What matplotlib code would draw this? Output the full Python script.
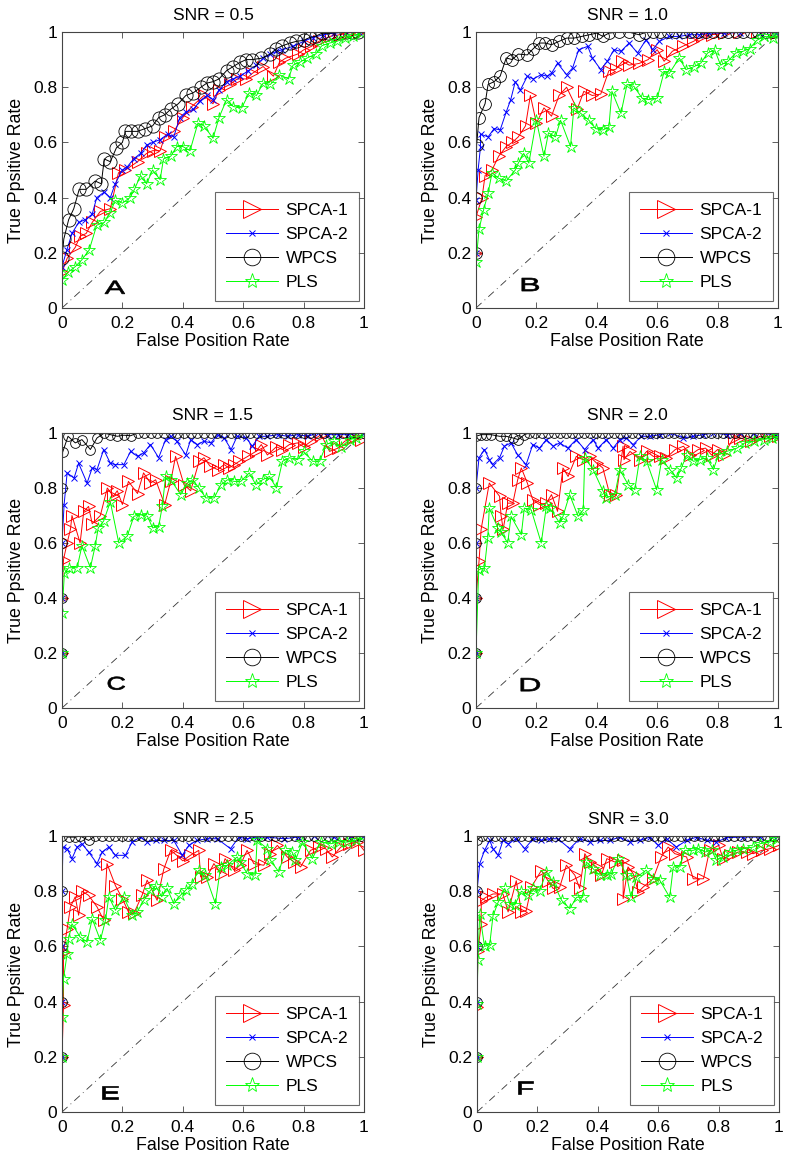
import matplotlib
matplotlib.use("Agg")
import matplotlib.pyplot as plt
from matplotlib.lines import Line2D
from matplotlib.ticker import FormatStrFormatter
from matplotlib.textpath import TextPath
from matplotlib.patches import PathPatch
from matplotlib.font_manager import FontProperties
from matplotlib.transforms import Affine2D, ScaledTranslation

plt.rcParams['font.family'] = ['Liberation Sans', 'DejaVu Sans']

titles = ["SNR = 0.5", "SNR = 1.0", "SNR = 1.5", "SNR = 2.0", "SNR = 2.5", "SNR = 3.0"]
letters = ["A", "B", "C", "D", "E", "F"]
series_names = ["SPCA-1", "SPCA-2", "WPCS", "PLS"]

# ---------------- Panel A ----------------
A_spca1 = [(0,0.13),(0.017,0.18),(0.044,0.22),(0.06,0.26),(0.08,0.27),(0.1,0.31),(0.127,0.35),(0.16,0.36),(0.187,0.49),(0.21,0.50),(0.25,0.53),(0.28,0.56),(0.30,0.57),(0.325,0.57),(0.34,0.62),(0.37,0.64),(0.40,0.69),(0.43,0.73),(0.47,0.77),(0.50,0.74),(0.52,0.79),(0.556,0.81),(0.58,0.83),(0.61,0.83),(0.63,0.85),(0.666,0.875),(0.70,0.84),(0.72,0.89),(0.74,0.905),(0.78,0.92),(0.80,0.935),(0.826,0.948),(0.85,0.966),(0.89,0.985),(0.92,0.99),(0.95,0.997),(0.985,1.0)]
A_spca2 = [(0,0.15),(0.016,0.21),(0.033,0.27),(0.055,0.31),(0.077,0.32),(0.1,0.34),(0.115,0.40),(0.14,0.42),(0.16,0.40),(0.176,0.45),(0.2,0.50),(0.215,0.51),(0.237,0.54),(0.26,0.56),(0.28,0.59),(0.3,0.60),(0.325,0.61),(0.35,0.63),(0.37,0.62),(0.39,0.69),(0.41,0.71),(0.435,0.72),(0.457,0.75),(0.48,0.77),(0.5,0.755),(0.52,0.79),(0.545,0.82),(0.567,0.83),(0.59,0.84),(0.617,0.86),(0.644,0.88),(0.666,0.905),(0.69,0.92),(0.71,0.93),(0.73,0.936),(0.765,0.948),(0.8,0.966),(0.83,0.98),(0.865,0.99),(0.9,0.996),(0.94,1.0),(0.985,1.0)]
A_wpcs = [(0,0.18),(0.006,0.25),(0.022,0.32),(0.039,0.36),(0.057,0.43),(0.08,0.43),(0.11,0.46),(0.13,0.45),(0.14,0.54),(0.16,0.53),(0.18,0.58),(0.2,0.60),(0.21,0.64),(0.23,0.64),(0.25,0.64),(0.275,0.65),(0.3,0.66),(0.32,0.69),(0.34,0.70),(0.36,0.72),(0.385,0.74),(0.41,0.77),(0.435,0.78),(0.46,0.80),(0.48,0.815),(0.5,0.82),(0.52,0.83),(0.545,0.86),(0.567,0.875),(0.59,0.89),(0.61,0.90),(0.63,0.90),(0.66,0.905),(0.69,0.92),(0.71,0.94),(0.73,0.95),(0.755,0.96),(0.776,0.966),(0.8,0.97),(0.82,0.98),(0.84,0.985),(0.86,0.995),(0.88,0.995),(0.9,0.997),(0.92,0.998),(0.94,1.0),(0.96,1.0),(0.98,1.0)]
A_pls = [(0,0.10),(0.02,0.13),(0.044,0.15),(0.066,0.175),(0.09,0.21),(0.115,0.30),(0.14,0.31),(0.16,0.345),(0.176,0.39),(0.2,0.38),(0.225,0.40),(0.24,0.43),(0.26,0.48),(0.28,0.45),(0.3,0.50),(0.325,0.465),(0.336,0.54),(0.36,0.55),(0.38,0.585),(0.4,0.585),(0.424,0.57),(0.45,0.67),(0.47,0.66),(0.5,0.615),(0.52,0.69),(0.545,0.755),(0.567,0.73),(0.595,0.725),(0.62,0.78),(0.644,0.77),(0.666,0.815),(0.69,0.81),(0.72,0.845),(0.75,0.83),(0.765,0.88),(0.787,0.89),(0.81,0.905),(0.84,0.92),(0.86,0.95),(0.886,0.96),(0.91,0.966),(0.936,0.978),(0.964,0.984),(0.99,0.997)]

# ---------------- Panel B ----------------
B_spca1 = [(0,0.2),(0,0.33),(0.02,0.40),(0.03,0.48),(0.053,0.50),(0.075,0.55),(0.1,0.585),(0.12,0.60),(0.14,0.62),(0.164,0.66),(0.18,0.77),(0.2,0.67),(0.225,0.725),(0.25,0.695),(0.275,0.77),(0.3,0.80),(0.335,0.72),(0.357,0.785),(0.385,0.77),(0.413,0.775),(0.44,0.86),(0.463,0.865),(0.485,0.894),(0.507,0.88),(0.54,0.886),(0.57,0.90),(0.6,0.936),(0.623,0.894),(0.65,0.93),(0.684,0.948),(0.72,0.966),(0.75,0.984),(0.78,0.99),(0.82,0.996),(0.87,1.0),(0.93,1.0),(0.995,0.997)]
B_spca2 = [(0,0.2),(0,0.39),(0.007,0.50),(0.015,0.585),(0.015,0.63),(0.04,0.62),(0.06,0.65),(0.08,0.645),(0.1,0.71),(0.115,0.755),(0.13,0.82),(0.147,0.79),(0.17,0.84),(0.19,0.83),(0.215,0.845),(0.235,0.84),(0.25,0.85),(0.27,0.887),(0.3,0.845),(0.32,0.87),(0.34,0.936),(0.37,0.948),(0.385,0.906),(0.413,0.864),(0.435,0.894),(0.457,0.936),(0.48,0.93),(0.507,0.96),(0.535,0.924),(0.563,0.972),(0.585,0.936),(0.607,0.966),(0.64,0.984),(0.673,0.984),(0.706,0.99),(0.74,0.99),(0.773,0.996),(0.82,0.996),(0.875,0.998),(0.94,0.998),(0.995,0.997)]
B_wpcs = [(0,0.2),(0,0.40),(0.002,0.59),(0.01,0.69),(0.03,0.74),(0.04,0.81),(0.06,0.82),(0.08,0.84),(0.1,0.906),(0.12,0.90),(0.14,0.92),(0.17,0.917),(0.19,0.94),(0.21,0.96),(0.23,0.96),(0.25,0.954),(0.275,0.966),(0.3,0.978),(0.325,0.978),(0.35,0.984),(0.375,0.99),(0.4,0.996),(0.42,0.984),(0.44,0.996),(0.475,1.0),(0.505,1.0),(0.54,0.99),(0.56,0.998),(0.585,1.0),(0.61,1.0),(0.635,1.0),(0.66,1.0),(0.685,1.0),(0.71,1.0),(0.735,1.0),(0.76,1.0),(0.785,1.0),(0.81,1.0),(0.835,1.0),(0.86,1.0),(0.885,1.0),(0.91,1.0),(0.935,1.0),(0.96,1.0),(0.985,1.0)]
B_pls = [(0,0.165),(0.01,0.285),(0.025,0.355),(0.04,0.415),(0.053,0.49),(0.075,0.47),(0.1,0.46),(0.13,0.50),(0.14,0.525),(0.158,0.56),(0.175,0.525),(0.2,0.68),(0.225,0.55),(0.24,0.635),(0.263,0.62),(0.28,0.68),(0.313,0.585),(0.324,0.725),(0.347,0.705),(0.374,0.68),(0.396,0.65),(0.42,0.645),(0.44,0.655),(0.45,0.785),(0.48,0.705),(0.5,0.81),(0.523,0.803),(0.55,0.76),(0.57,0.755),(0.6,0.76),(0.623,0.857),(0.64,0.85),(0.673,0.906),(0.695,0.864),(0.723,0.875),(0.745,0.888),(0.767,0.924),(0.79,0.936),(0.81,0.88),(0.834,0.894),(0.86,0.924),(0.884,0.93),(0.906,0.94),(0.93,0.97),(0.955,0.984),(0.983,0.98),(1.0,0.996)]

# ---------------- Panel C ----------------
C_spca1 = [(0,0.2),(0,0.4),(0.005,0.54),(0.017,0.60),(0.028,0.65),(0.033,0.70),(0.06,0.60),(0.072,0.715),(0.088,0.733),(0.1,0.67),(0.127,0.70),(0.15,0.80),(0.17,0.77),(0.183,0.79),(0.2,0.74),(0.22,0.824),(0.25,0.78),(0.27,0.855),(0.293,0.818),(0.31,0.83),(0.34,0.74),(0.36,0.824),(0.376,0.915),(0.404,0.812),(0.426,0.79),(0.454,0.897),(0.47,0.91),(0.49,0.88),(0.515,0.867),(0.537,0.885),(0.553,0.873),(0.57,0.885),(0.587,0.897),(0.615,0.915),(0.642,0.933),(0.66,0.958),(0.68,0.92),(0.71,0.95),(0.73,0.94),(0.753,0.958),(0.78,0.964),(0.8,0.95),(0.825,0.97),(0.858,0.994),(0.886,0.933),(0.914,0.945),(0.936,0.97),(0.963,0.982),(0.99,0.976)]
C_spca2 = [(0,0.2),(0,0.4),(0,0.6),(0.007,0.74),(0.017,0.855),(0.04,0.836),(0.055,0.89),(0.083,0.818),(0.1,0.873),(0.116,0.867),(0.138,0.94),(0.16,0.89),(0.177,0.885),(0.205,0.885),(0.227,0.933),(0.25,0.915),(0.27,0.927),(0.293,0.958),(0.32,0.91),(0.343,0.976),(0.36,0.988),(0.38,0.97),(0.41,0.92),(0.426,0.976),(0.448,0.958),(0.47,0.97),(0.493,0.964),(0.515,0.994),(0.537,0.982),(0.56,0.94),(0.58,0.988),(0.61,0.982),(0.63,0.952),(0.653,0.988),(0.68,0.988),(0.714,0.994),(0.747,0.988),(0.78,0.994),(0.814,0.988),(0.847,1.0),(0.88,0.994),(0.914,0.994),(0.947,0.994),(1.0,1.0)]
C_wpcs = [(0,0.2),(0,0.4),(0,0.6),(0,0.8),(0.002,0.93),(0.02,0.988),(0.044,0.964),(0.066,0.976),(0.094,0.94),(0.116,0.982),(0.14,1.0),(0.16,0.994),(0.183,0.988),(0.205,0.992),(0.227,0.99),(0.25,1.0),(0.272,1.0),(0.294,1.0),(0.316,1.0),(0.338,1.0),(0.36,1.0),(0.382,1.0),(0.404,1.0),(0.426,1.0),(0.448,1.0),(0.47,1.0),(0.492,1.0),(0.514,1.0),(0.536,1.0),(0.558,1.0),(0.58,1.0),(0.602,1.0),(0.624,1.0),(0.646,1.0),(0.668,1.0),(0.69,1.0),(0.712,1.0),(0.734,1.0),(0.756,1.0),(0.778,1.0),(0.8,1.0),(0.822,1.0),(0.844,1.0),(0.866,1.0),(0.888,1.0),(0.91,1.0),(0.932,1.0),(0.954,1.0),(0.976,1.0),(0.998,1.0)]
C_pls = [(0,0.2),(0,0.345),(0.008,0.49),(0.022,0.51),(0.05,0.51),(0.066,0.59),(0.094,0.51),(0.11,0.59),(0.12,0.655),(0.138,0.68),(0.16,0.75),(0.188,0.60),(0.216,0.625),(0.238,0.697),(0.26,0.703),(0.283,0.697),(0.3,0.655),(0.32,0.66),(0.332,0.733),(0.343,0.842),(0.36,0.83),(0.393,0.776),(0.415,0.818),(0.432,0.83),(0.454,0.80),(0.476,0.764),(0.504,0.764),(0.526,0.812),(0.548,0.83),(0.57,0.824),(0.592,0.824),(0.62,0.855),(0.642,0.812),(0.664,0.83),(0.687,0.842),(0.71,0.80),(0.73,0.897),(0.753,0.91),(0.78,0.903),(0.8,0.933),(0.83,0.897),(0.853,0.897),(0.875,0.958),(0.9,0.97),(0.925,0.95),(0.952,0.976),(0.975,0.982),(1.0,1.0)]

# ---------------- Panel D ----------------
D_spca1 = [(0,0.2),(0,0.4),(0.01,0.533),(0.017,0.65),(0.044,0.818),(0.078,0.77),(0.083,0.70),(0.09,0.65),(0.105,0.745),(0.122,0.745),(0.138,0.83),(0.15,0.873),(0.17,0.818),(0.188,0.757),(0.21,0.74),(0.233,0.745),(0.25,0.776),(0.27,0.715),(0.288,0.873),(0.305,0.842),(0.332,0.915),(0.354,0.903),(0.376,0.915),(0.4,0.89),(0.42,0.873),(0.443,0.776),(0.465,0.776),(0.487,0.952),(0.49,0.903),(0.51,0.933),(0.543,0.903),(0.565,0.933),(0.587,0.915),(0.61,0.915),(0.63,0.91),(0.66,0.94),(0.687,0.952),(0.71,0.92),(0.736,0.94),(0.76,0.945),(0.78,0.92),(0.8,0.94),(0.82,0.92),(0.853,0.982),(0.875,0.982),(0.91,0.97),(0.94,0.988),(0.975,0.988),(1.0,0.988)]
D_spca2 = [(0,0.2),(0,0.4),(0,0.6),(0,0.8),(0.01,0.91),(0.028,0.94),(0.044,0.903),(0.055,0.885),(0.078,0.91),(0.094,0.952),(0.116,0.964),(0.138,0.92),(0.166,0.885),(0.188,0.958),(0.21,0.945),(0.233,0.976),(0.255,0.952),(0.277,0.964),(0.304,0.945),(0.332,0.976),(0.36,0.94),(0.388,0.976),(0.404,0.945),(0.432,0.976),(0.454,0.945),(0.476,0.976),(0.498,0.982),(0.52,0.958),(0.548,0.988),(0.576,0.988),(0.61,0.994),(0.642,1.0),(0.687,0.982),(0.72,0.988),(0.753,0.994),(0.786,1.0),(0.83,0.994),(0.875,1.0),(0.92,1.0),(0.995,0.994)]
D_wpcs = [(0,0.2),(0,0.4),(0,0.6),(0,0.8),(0,0.988),(0.017,0.994),(0.033,0.994),(0.05,0.994),(0.078,0.988),(0.1,0.988),(0.122,0.982),(0.14,0.976),(0.16,0.994),(0.177,1.0),(0.197,1.0),(0.217,1.0),(0.237,1.0),(0.257,1.0),(0.277,1.0),(0.297,1.0),(0.317,1.0),(0.337,1.0),(0.357,1.0),(0.377,1.0),(0.397,1.0),(0.417,1.0),(0.437,1.0),(0.457,1.0),(0.477,1.0),(0.497,1.0),(0.517,1.0),(0.537,1.0),(0.557,1.0),(0.577,1.0),(0.597,1.0),(0.617,1.0),(0.637,1.0),(0.657,1.0),(0.677,1.0),(0.697,1.0),(0.717,1.0),(0.737,1.0),(0.757,1.0),(0.777,1.0),(0.797,1.0),(0.817,1.0),(0.837,1.0),(0.857,1.0),(0.877,1.0),(0.897,1.0),(0.917,1.0),(0.937,1.0),(0.957,1.0),(0.977,1.0),(0.997,1.0)]
D_pls = [(0,0.2),(0.009,0.503),(0.028,0.51),(0.039,0.62),(0.044,0.727),(0.072,0.655),(0.083,0.64),(0.105,0.60),(0.116,0.697),(0.15,0.63),(0.16,0.727),(0.183,0.72),(0.216,0.60),(0.233,0.733),(0.244,0.727),(0.277,0.673),(0.288,0.697),(0.31,0.776),(0.338,0.697),(0.355,0.72),(0.36,0.91),(0.388,0.867),(0.42,0.79),(0.432,0.764),(0.46,0.776),(0.476,0.867),(0.504,0.812),(0.526,0.794),(0.543,0.915),(0.565,0.897),(0.598,0.794),(0.615,0.903),(0.642,0.867),(0.665,0.836),(0.68,0.873),(0.698,0.92),(0.72,0.897),(0.742,0.903),(0.764,0.91),(0.786,0.867),(0.803,0.92),(0.83,0.933),(0.864,0.945),(0.89,0.964),(0.92,0.97),(0.952,0.976),(0.98,0.982),(1.0,0.988)]

# ---------------- Panel E ----------------
E_spca1 = [(0,0.2),(0.005,0.386),(0.005,0.58),(0.017,0.664),(0.028,0.743),(0.044,0.78),(0.055,0.713),(0.066,0.80),(0.088,0.785),(0.116,0.743),(0.138,0.695),(0.149,0.90),(0.177,0.82),(0.2,0.773),(0.22,0.725),(0.238,0.72),(0.265,0.785),(0.282,0.84),(0.315,0.767),(0.337,0.88),(0.36,0.948),(0.38,0.93),(0.4,0.91),(0.425,0.93),(0.453,0.948),(0.459,0.852),(0.48,0.852),(0.503,0.90),(0.525,0.864),(0.54,0.918),(0.57,0.876),(0.59,0.894),(0.613,0.948),(0.635,0.90),(0.668,0.894),(0.69,0.936),(0.713,0.966),(0.746,0.924),(0.768,0.906),(0.79,0.888),(0.823,0.948),(0.85,0.96),(0.873,0.954),(0.895,0.924),(0.923,0.96),(0.95,0.972),(0.978,0.978),(1.0,0.948)]
E_spca2 = [(0,0.2),(0,0.4),(0,0.6),(0,0.8),(0.003,0.96),(0.017,0.954),(0.033,0.918),(0.05,0.96),(0.066,0.972),(0.088,0.942),(0.116,0.90),(0.133,0.942),(0.155,0.96),(0.177,0.93),(0.21,0.93),(0.232,0.978),(0.26,0.996),(0.282,0.978),(0.31,0.984),(0.337,0.984),(0.37,0.984),(0.398,0.93),(0.42,0.966),(0.447,0.984),(0.48,0.99),(0.514,0.99),(0.558,0.954),(0.586,0.996),(0.613,0.99),(0.646,0.996),(0.68,0.996),(0.735,0.99),(0.78,0.996),(0.834,1.0),(0.9,0.996),(0.956,1.0),(1.0,1.0)]
E_wpcs = [(0,0.2),(0,0.4),(0,0.6),(0,0.8),(0,1.0),(0.022,0.996),(0.044,0.996),(0.06,1.0),(0.088,0.984),(0.11,1.0),(0.132,1.0),(0.154,1.0),(0.176,1.0),(0.198,1.0),(0.22,1.0),(0.242,1.0),(0.264,1.0),(0.286,1.0),(0.308,1.0),(0.33,1.0),(0.352,1.0),(0.374,1.0),(0.396,1.0),(0.418,1.0),(0.44,1.0),(0.462,1.0),(0.484,1.0),(0.506,1.0),(0.528,1.0),(0.55,1.0),(0.572,1.0),(0.594,1.0),(0.616,1.0),(0.638,1.0),(0.66,1.0),(0.682,1.0),(0.704,1.0),(0.726,1.0),(0.748,1.0),(0.77,1.0),(0.792,1.0),(0.814,1.0),(0.836,1.0),(0.858,1.0),(0.88,1.0),(0.902,1.0),(0.924,1.0),(0.946,1.0),(0.968,1.0),(0.99,1.0)]
E_pls = [(0,0.2),(0,0.345),(0.005,0.483),(0.017,0.574),(0.022,0.628),(0.033,0.682),(0.06,0.634),(0.083,0.616),(0.1,0.70),(0.127,0.622),(0.144,0.695),(0.155,0.78),(0.177,0.731),(0.204,0.78),(0.232,0.713),(0.249,0.725),(0.271,0.767),(0.293,0.803),(0.31,0.82),(0.33,0.78),(0.348,0.81),(0.37,0.755),(0.392,0.785),(0.409,0.803),(0.43,0.827),(0.453,0.876),(0.475,0.858),(0.508,0.755),(0.525,0.888),(0.547,0.894),(0.58,0.924),(0.59,0.906),(0.613,0.864),(0.64,0.858),(0.646,0.984),(0.68,0.954),(0.69,0.912),(0.718,0.87),(0.74,0.948),(0.762,0.942),(0.773,0.912),(0.796,0.978),(0.829,0.918),(0.856,0.978),(0.89,0.972),(0.917,0.978),(0.945,0.978),(0.972,0.984),(0.995,1.0)]

# ---------------- Panel F ----------------
F_spca1 = [(0,0.2),(0,0.38),(0.003,0.585),(0.014,0.68),(0.014,0.766),(0.03,0.778),(0.053,0.79),(0.086,0.79),(0.103,0.725),(0.13,0.838),(0.147,0.725),(0.163,0.73),(0.18,0.815),(0.213,0.875),(0.235,0.838),(0.252,0.81),(0.274,0.815),(0.296,0.894),(0.324,0.858),(0.34,0.81),(0.357,0.936),(0.373,0.906),(0.396,0.888),(0.412,0.858),(0.43,0.918),(0.456,0.906),(0.484,0.912),(0.484,0.773),(0.5,0.888),(0.517,0.864),(0.534,0.797),(0.55,0.815),(0.583,0.845),(0.61,0.924),(0.633,0.96),(0.655,0.936),(0.694,0.924),(0.716,0.845),(0.75,0.845),(0.77,0.948),(0.8,0.966),(0.815,0.918),(0.838,0.93),(0.865,0.942),(0.893,0.942),(0.915,0.936),(0.943,0.948),(0.97,0.954),(1.0,0.966)]
F_spca2 = [(0,0.2),(0,0.4),(0,0.6),(0,0.8),(0.009,0.90),(0.025,0.948),(0.042,0.984),(0.053,0.954),(0.07,0.93),(0.086,0.984),(0.103,0.972),(0.13,0.99),(0.158,0.954),(0.186,0.99),(0.213,0.984),(0.24,0.99),(0.268,0.99),(0.307,0.954),(0.34,0.99),(0.373,0.978),(0.407,0.984),(0.44,0.984),(0.473,0.996),(0.506,0.978),(0.54,0.984),(0.572,0.996),(0.60,0.966),(0.628,0.99),(0.66,0.96),(0.694,0.984),(0.727,0.996),(0.76,0.984),(0.793,0.978),(0.826,0.994),(0.882,0.996),(0.937,0.996),(0.98,1.0)]
F_wpcs = [(0,0.2),(0,0.4),(0,0.6),(0,0.8),(0,0.984),(0.015,1.0),(0.037,1.0),(0.059,1.0),(0.081,1.0),(0.103,1.0),(0.125,1.0),(0.147,1.0),(0.169,1.0),(0.191,1.0),(0.213,1.0),(0.235,1.0),(0.257,1.0),(0.279,1.0),(0.301,1.0),(0.323,1.0),(0.345,1.0),(0.367,1.0),(0.389,1.0),(0.411,1.0),(0.433,1.0),(0.455,1.0),(0.477,1.0),(0.499,1.0),(0.521,1.0),(0.543,1.0),(0.565,1.0),(0.587,1.0),(0.609,1.0),(0.631,1.0),(0.653,1.0),(0.675,1.0),(0.697,1.0),(0.719,1.0),(0.741,1.0),(0.763,1.0),(0.785,1.0),(0.807,1.0),(0.829,1.0),(0.851,1.0),(0.873,1.0),(0.895,1.0),(0.917,1.0),(0.939,1.0),(0.961,1.0),(0.983,1.0)]
F_pls = [(0,0.2),(0,0.39),(0.003,0.55),(0.009,0.717),(0.025,0.60),(0.042,0.606),(0.053,0.711),(0.07,0.76),(0.092,0.81),(0.108,0.755),(0.125,0.75),(0.147,0.80),(0.17,0.785),(0.185,0.81),(0.207,0.80),(0.23,0.87),(0.252,0.833),(0.28,0.767),(0.307,0.737),(0.33,0.778),(0.35,0.778),(0.362,0.906),(0.384,0.882),(0.406,0.858),(0.43,0.858),(0.445,0.864),(0.467,0.918),(0.495,0.858),(0.51,0.778),(0.528,0.85),(0.56,0.876),(0.583,0.845),(0.605,0.84),(0.638,0.778),(0.65,0.888),(0.672,0.888),(0.688,0.948),(0.716,0.948),(0.733,0.954),(0.755,0.942),(0.777,0.948),(0.793,0.912),(0.815,0.924),(0.838,0.942),(0.86,0.948),(0.882,0.954),(0.915,0.96),(0.937,0.972),(0.97,0.978),(0.992,0.99)]

panels = [
    (A_spca1, A_spca2, A_wpcs, A_pls),
    (B_spca1, B_spca2, B_wpcs, B_pls),
    (C_spca1, C_spca2, C_wpcs, C_pls),
    (D_spca1, D_spca2, D_wpcs, D_pls),
    (E_spca1, E_spca2, E_wpcs, E_pls),
    (F_spca1, F_spca2, F_wpcs, F_pls),
]

tick_values = [0, 0.2, 0.4, 0.6, 0.8, 1]

# axes rectangles in figure pixels (left, top, right, bottom)
W, H = 786, 1159
rects = [
    (62, 32, 364, 308), (476, 32, 778, 308),
    (62, 433, 364, 708), (476, 433, 778, 708),
    (62, 836, 364, 1112), (477, 836, 779, 1112),
]
letter_pos = [(0.175, 0.075), (0.18, 0.085), (0.18, 0.09), (0.18, 0.085), (0.16, 0.072), (0.16, 0.087)]
letter_w_px = [20, 17, 17, 19, 16, 15]
letter_h_px = 13
wpcs_ms = [9.5, 8.5, 7, 7, 7, 7]

styles = [
    dict(color='#ff0000', marker='>', ms=9, mfc='none', mew=0.7),
    dict(color='#0000ff', marker='x', ms=4, mew=0.7),
    dict(color='#000000', marker='o', ms=8, mfc='none', mew=0.6),
    dict(color='#00ff00', marker='*', ms=9, mfc='none', mew=0.6),
]
leg_ms = [13, 5, 12, 11]

fig = plt.figure(figsize=(W / 100, H / 100), dpi=100)
spine_col = '#444444'
letter_font = FontProperties(family='Liberation Sans', weight='normal')

for i, data in enumerate(panels):
    l, t, r, b = rects[i]
    ax = fig.add_axes([l / W, 1 - b / H, (r - l) / W, (b - t) / H])
    ax.plot([0, 1], [0, 1], linestyle=(0, (9, 5, 1, 5)), color='#333333', lw=0.6)
    for k, pts in enumerate(data):
        xs = [p[0] for p in pts]
        ys = [p[1] for p in pts]
        st = dict(styles[k])
        if k == 2:
            st['ms'] = wpcs_ms[i]
        ax.plot(xs, ys, lw=0.7, **st)
    ax.set_xlim(0, 1)
    ax.set_ylim(0, 1)
    ax.set_xticks(tick_values)
    ax.set_yticks(tick_values)
    ax.xaxis.set_major_formatter(FormatStrFormatter('%g'))
    ax.yaxis.set_major_formatter(FormatStrFormatter('%g'))
    ax.tick_params(direction='in', length=4, width=0.6, top=True, right=True,
                   labelsize=12.5, color=spine_col)
    ax.tick_params(axis='x', pad=5.5)
    ax.tick_params(axis='y', pad=3.5)
    for s in ax.spines.values():
        s.set_color(spine_col)
        s.set_linewidth(0.8)
    ax.set_title(titles[i], fontsize=12.5, pad=9)
    ax.set_xlabel("False Position Rate", fontsize=12.8, labelpad=2)
    ax.set_ylabel("True Ppsitive Rate", fontsize=12.8, labelpad=6)

    # wide panel letter: glyph outline scaled to a fixed pixel box
    tp = TextPath((0, 0), letters[i], size=100, prop=letter_font)
    bb = tp.get_extents()
    cx, cy = (bb.x0 + bb.x1) / 2, (bb.y0 + bb.y1) / 2
    sx = letter_w_px[i] / bb.width
    sy = letter_h_px / bb.height
    tr = (Affine2D().translate(-cx, -cy).scale(sx, sy)
          + ScaledTranslation(letter_pos[i][0], letter_pos[i][1], ax.transAxes))
    ax.add_patch(PathPatch(tp, transform=tr, facecolor='black', edgecolor='black',
                           lw=0.5, clip_on=False))

    handles = []
    for k in range(4):
        st = dict(styles[k])
        st['ms'] = leg_ms[k]
        handles.append(Line2D([], [], lw=0.7, **st))
    leg = ax.legend(handles, series_names, loc='lower right', bbox_to_anchor=(0.985, 0.025),
                    fontsize=12.5, frameon=True, fancybox=False, edgecolor=spine_col,
                    handlelength=3.0, handletextpad=0.4, labelspacing=0.5,
                    borderpad=0.65, borderaxespad=0.0)
    leg.get_frame().set_linewidth(0.8)

fig.savefig("out.png", dpi=100)
